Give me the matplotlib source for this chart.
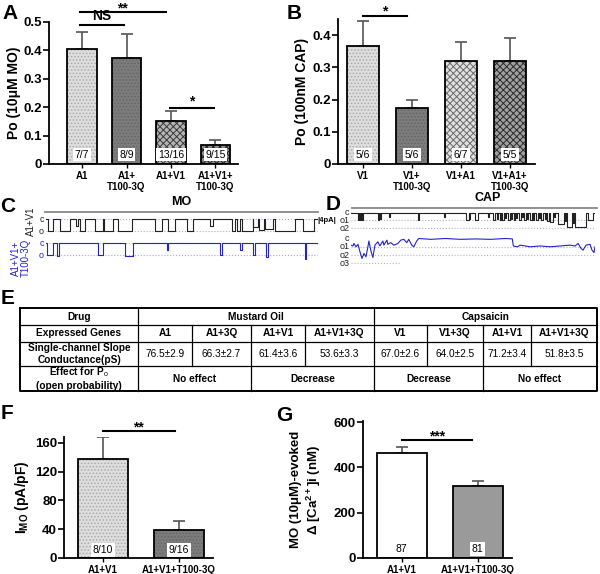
import matplotlib
matplotlib.use("Agg")
import matplotlib.pyplot as plt
import numpy as np

plt.rcParams['font.family'] = ['Liberation Sans', 'DejaVu Sans']
plt.rcParams['mathtext.fontset'] = 'custom'
plt.rcParams['mathtext.rm'] = 'Liberation Sans'
plt.rcParams['mathtext.bf'] = 'Liberation Sans:bold'
plt.rcParams['mathtext.default'] = 'bf'
plt.rcParams['hatch.linewidth'] = 0.7

# ---- data ----
a_groups = ['A1', 'A1+\nT100-3Q', 'A1+V1', 'A1+V1+\nT100-3Q']
a_po = [0.405, 0.372, 0.153, 0.067]
a_sem = [0.060, 0.086, 0.033, 0.016]
a_n = ['7/7', '8/9', '13/16', '9/15']

b_groups = ['V1', 'V1+\nT100-3Q', 'V1+A1', 'V1+A1+\nT100-3Q']
b_po = [0.367, 0.175, 0.320, 0.318]
b_sem = [0.076, 0.025, 0.057, 0.074]
b_n = ['5/6', '5/6', '6/7', '5/5']

f_groups = ['A1+V1', 'A1+V1+T100-3Q']
f_imo = [138, 39]
f_sem = [30, 12]
f_n = ['8/10', '9/16']

g_groups = ['A1+V1', 'A1+V1+T100-3Q']
g_ca = [465, 320]
g_sem = [25, 20]
g_n = ['87', '81']

# single channel events: (start, end, depth in open levels)
c_black = [(2, 7, 1), (14, 24, 1), (30, 32, 0.6), (34, 39, 1), (49, 57, 1), (58, 67, 1),
           (72, 86, 1), (109, 116, 1), (122, 129, 1), (141, 147, 1), (164, 167, 0.6),
           (186, 189, 1), (191, 194, 1), (196, 207, 1), (207, 212, 0.7), (213, 218, 0.9),
           (219, 227, 0.8), (229, 249, 1), (257, 268, 1)]
c_blue = [(1, 7, 1), (11, 13, 1.1), (52, 57, 1), (79, 87, 1.1), (121, 122, 0.6),
          (174, 176, 1), (194, 196, 0.6), (207, 209, 1), (220, 222, 1.2), (259, 260, 1.3)]
d_black = [(7, 8, 1), (9, 10, 1), (11, 12.5, 1), (27, 28, 1), (29, 30, 0.8), (38, 38.8, 0.6),
           (67, 68, 1), (93, 94, 0.6), (115, 118, 1), (118.8, 119.5, 0.8), (125, 128, 1),
           (138, 138.8, 0.6), (143, 144.5, 1), (147, 148, 0.8), (149.5, 150.5, 1),
           (152, 154, 1), (155, 156, 0.7), (158, 160, 1), (161, 162, 0.8), (163.5, 165, 1),
           (166, 167, 0.7), (168.5, 170.5, 1), (172, 173, 0.6), (174, 176, 1), (177, 178, 0.8),
           (180, 182, 1), (183, 184, 0.9), (186, 188, 1), (189, 190, 0.7), (191, 193, 1),
           (195, 196, 0.8), (197, 199, 1.1), (200, 203, 1.2), (204, 205, 0.6), (208, 214, 1.5),
           (215, 216, 1.1), (217, 222, 1.8), (223, 224, 1.3), (225, 236, 1.8), (238, 243, 1)]
d_blue_t = [0, 2, 3, 5, 7, 9, 11, 13, 15, 17, 18, 20, 22, 24, 27, 29, 32, 33, 36, 37, 40,
            43, 47, 50, 53, 56, 58, 61, 63, 66, 68, 80, 95, 110, 125, 140, 155, 162, 163,
            167, 170, 180, 190, 200, 210, 220, 225, 228, 231, 233, 236, 240, 242, 244, 245]
d_blue_lvl = [0.8, 0.9, 0.6, 1.0, 0.7, 1.6, 2.4, 1.8, 2.2, 1.0, 0.3, 1.5, 2.3, 0.8, 0.4,
              0.9, 0.3, 0.8, 0.2, 0.7, 0.5, 0.8, 0.6, 0.2, 0.1, 0.5, 0.1, 0.8, 1.0, 0.3,
              0.0, 0.1, 0.0, 0.1, 0.05, 0.1, 0.0, 0.05, 0.9, 1.0, 0.8, 1.0, 0.9, 1.0, 0.9,
              0.8, 0.9, 0.6, 1.2, 1.4, 0.8, 0.7, 1.4, 1.7, 1.0]

tbl_genes = ['A1', 'A1+3Q', 'A1+V1', 'A1+V1+3Q', 'V1', 'V1+3Q', 'A1+V1', 'A1+V1+3Q']
tbl_cond = ['76.5±2.9', '66.3±2.7', '61.4±3.6', '53.6±3.3',
            '67.0±2.6', '64.0±2.5', '71.2±3.4', '51.8±3.5']
tbl_effect = ['No effect', 'Decrease', 'Decrease', 'No effect']
tbl_drugs = ['Mustard Oil', 'Capsaicin']

W, H = 600, 574
fig = plt.figure(figsize=(6.0, 5.74), dpi=100)


def px_axes(x0, x1, ytop, ybot):
    return fig.add_axes([x0 / W, 1 - ybot / H, (x1 - x0) / W, (ybot - ytop) / H])


LIGHT = dict(face='#dedede', hatch='.....', hc='#aaaaaa')
DARK = dict(face='#7c7c7c', hatch='.....', hc='#666666')
CHK_MED = dict(face='#b4b4b4', hatch='xxxxx', hc='#3a3a3a')
CHK_DARK = dict(face='#8a8a8a', hatch='xxxxx', hc='#1e1e1e')
CHK_LIGHT = dict(face='#e0e0e0', hatch='xxxxx', hc='#6a6a6a')
CHK_MID2 = dict(face='#a0a0a0', hatch='xxxxx', hc='#2a2a2a')
WHITE = dict(face='white', hatch=None, hc='white')
GRAY = dict(face='#9a9a9a', hatch=None, hc='#9a9a9a')


def bar_panel(ax, labels, vals, sems, ns, styles, xlim, ylim, yticks, yfmt, ylabel,
              label_x, ylabel_size=10):
    x = np.arange(len(vals))
    w = 0.66
    ax.errorbar(x, vals, yerr=[np.zeros(len(vals)), sems], fmt='none', ecolor='#555555',
                elinewidth=1.2, capsize=4, capthick=1.2, zorder=1)
    for i, s in enumerate(styles):
        ax.bar(x[i], vals[i], w, color=s['face'], hatch=s['hatch'], edgecolor=s['hc'],
               linewidth=0, zorder=2)
    ax.bar(x, vals, w, fill=False, edgecolor='black', linewidth=1.3, zorder=3)
    for i, t in enumerate(ns):
        ax.text(x[i], 0.065, t, transform=ax.get_xaxis_transform(), ha='center', va='center',
                fontsize=7.5, zorder=4,
                bbox=dict(facecolor='white', edgecolor='none', pad=1.2))
    ax.set_xlim(*xlim)
    ax.set_ylim(*ylim)
    ax.set_yticks(yticks)
    ax.set_yticklabels([yfmt(v) for v in yticks], fontsize=9.5, fontweight='bold')
    ax.set_xticks(x)
    ax.set_xticklabels(labels, fontsize=7, fontweight='bold', linespacing=1.1)
    ax.spines['top'].set_visible(False)
    ax.spines['right'].set_visible(False)
    for sp in ('left', 'bottom'):
        ax.spines[sp].set_linewidth(1.3)
    ax.tick_params(axis='y', length=4, width=1.2, pad=1)
    ax.tick_params(axis='x', length=3, width=1.0, pad=2)
    ax.set_ylabel(ylabel, fontsize=ylabel_size, fontweight='bold')
    ax.yaxis.set_label_coords(label_x, 0.5)


def sig(ax, x0, x1, y, txt, dy):
    ax.plot([x0, x1], [y, y], color='black', lw=1.5, clip_on=False)
    ax.text((x0 + x1) / 2, y + dy, txt, ha='center', va='bottom', fontsize=10,
            fontweight='bold', clip_on=False)


# ---- A ----
axA = px_axes(49, 238, 22, 164)
bar_panel(axA, a_groups, a_po, a_sem, a_n, [LIGHT, DARK, CHK_MED, CHK_DARK],
          (-0.742, 3.506), (0, 0.5), [0, 0.1, 0.2, 0.3, 0.4, 0.5],
          lambda v: '0' if v == 0 else f'{v:.1f}', 'Po (10μM MO)', -0.15)
sig(axA, -0.05, 0.95, 0.489, 'NS', 0.006)
sig(axA, -0.05, 1.88, 0.535, '**', -0.012)
sig(axA, 1.97, 2.97, 0.197, '*', 0.0)

# ---- B ----
axB = px_axes(338, 535, 18.9, 164)
bar_panel(axB, b_groups, b_po, b_sem, b_n, [LIGHT, DARK, CHK_LIGHT, CHK_MID2],
          (-0.51, 3.51), (0, 0.45), [0, 0.1, 0.2, 0.3, 0.4],
          lambda v: '0' if v == 0 else f'{v:.1f}', 'Po (100nM CAP)', -0.145)
sig(axB, 0.0, 0.9, 0.459, '*', -0.008)

# ---- F ----
axF = px_axes(64, 213, 437, 558)
bar_panel(axF, f_groups, f_imo, f_sem, f_n, [LIGHT, DARK],
          (-0.51, 1.45), (0, 168), [0, 40, 80, 120, 160], lambda v: f'{v:d}',
          'I$_{MO}$ (pA/pF)', -0.22)
sig(axF, 0.0, 0.95, 176, '**', -4)

# ---- G ----
axG = px_axes(363, 512, 421, 558)
bar_panel(axG, g_groups, g_ca, g_sem, g_n, [WHITE, GRAY],
          (-0.51, 1.45), (0, 605), [0, 200, 400, 600], lambda v: f'{v:d}',
          'MO (10μM)-evoked\nΔ [Ca$^{2+}$]i (nM)', -0.27, ylabel_size=9.5)
sig(axG, 0.0, 0.93, 521, '***', -14)


# ---- C / D traces ----
def trace_axes(x0, x1, c_row, spacing, lo, hi, tmax):
    ax = px_axes(x0, x1, c_row + lo * spacing, c_row + hi * spacing)
    ax.set_xlim(0, tmax)
    ax.set_ylim(hi, lo)
    ax.axis('off')
    ax.patch.set_alpha(0)
    return ax


def step_trace(events, tmax):
    xs, ys = [0], [0]
    for a, b, d in events:
        xs += [a, a, b, b]
        ys += [0, d, d, 0]
    xs.append(tmax)
    ys.append(0)
    return xs, ys


BLUE = '#2323c8'

axC1 = trace_axes(46, 318, 219, 12, -0.6, 1.5, 272)
axC2 = trace_axes(46, 318, 243, 12, -0.6, 1.6, 272)
for ax, ev, col in ((axC1, c_black, '#222222'), (axC2, c_blue, BLUE)):
    for lv in (0, 1):
        ax.axhline(lv, color='#a8a8e6', ls=':', lw=0.8)
    xs, ys = step_trace(ev, 272)
    ax.plot(xs, ys, color=col, lw=0.8)
    ax.text(-2, 0, 'c', ha='right', va='center', fontsize=6.5, color=col)
    ax.text(-2, 1, 'o', ha='right', va='center', fontsize=6.5, color=col)

axD1 = trace_axes(351, 595, 212.5, 7.8, -0.6, 2.4, 245)
axD2 = trace_axes(351, 595, 238.5, 8.3, -0.6, 3.4, 245)
for lv in (1, 2):
    axD1.axhline(lv, color='#b4b4cc', ls=':', lw=0.8)
for lv in (1, 2):
    axD2.axhline(lv, color='#b4b4cc', ls=':', lw=0.8)
axD2.plot([0, 50], [3, 3], color='#b4b4cc', ls=':', lw=0.8)
xs, ys = step_trace(d_black, 245)
axD1.plot(xs, ys, color='#222222', lw=0.8)
axD2.plot(d_blue_t, d_blue_lvl, color=BLUE, lw=0.8)
for i, lab in enumerate(['c', 'o1', 'o2']):
    axD1.text(-1.5, i, lab, ha='right', va='center', fontsize=6.5, color='#222222')
for i, lab in enumerate(['c', 'o1', 'o2', 'o3']):
    axD2.text(-1.5, i, lab, ha='right', va='center', fontsize=6.5, color='#222222')

# ---- overlay: letters, titles, table ----
ov = fig.add_axes([0, 0, 1, 1])
ov.set_xlim(0, W)
ov.set_ylim(H, 0)
ov.axis('off')
ov.patch.set_alpha(0)

for lab, x, y in (('A', 2, 4), ('B', 287, 4), ('C', 0, 197), ('D', 326, 195),
                  ('E', 1, 289), ('F', 1, 404), ('G', 276, 406)):
    ov.text(x, y, lab, fontsize=15, fontweight='bold', ha='left', va='top')

ov.plot([45, 318], [212, 212], color='#888888', lw=1.3)
ov.plot([352, 597], [208, 208], color='#888888', lw=1.3)
ov.text(181, 208, 'MO', fontsize=9, fontweight='bold', ha='center', va='bottom')
ov.text(488, 204, 'CAP', fontsize=9, fontweight='bold', ha='center', va='bottom')
ov.text(31, 221, 'A1+V1', rotation=90, fontsize=7, ha='center', va='center', color='#222222')
ov.text(21, 258, 'A1+V1+\nT100-3Q', rotation=90, fontsize=7, ha='center', va='center',
        color=BLUE, linespacing=1.0)
ov.text(327, 220, '|4pA|', fontsize=5.5, fontweight='bold', ha='center', va='center')

# table
cols = [20, 138, 192, 251, 305, 374, 427, 483, 531, 597]
rows = [308, 325, 342, 366, 391]
lw_in = 0.9
for r in rows[1:-1]:
    ov.plot([cols[0], cols[-1]], [r, r], color='black', lw=lw_in)
ov.plot([cols[0], cols[-1], cols[-1], cols[0], cols[0]],
        [rows[0], rows[0], rows[-1], rows[-1], rows[0]], color='black', lw=1.4)
for c in (cols[1], cols[5]):
    ov.plot([c, c], [rows[0], rows[-1]], color='black', lw=lw_in)
for c in (cols[2], cols[4], cols[6], cols[8]):
    ov.plot([c, c], [rows[1], rows[3]], color='black', lw=lw_in)
for c in (cols[3], cols[7]):
    ov.plot([c, c], [rows[1], rows[-1]], color='black', lw=lw_in)


def cell_text(c0, c1, r0, r1, txt, bold=True, size=7.3):
    ov.text((cols[c0] + cols[c1]) / 2, (rows[r0] + rows[r1]) / 2, txt, ha='center',
            va='center', fontsize=size, fontweight='bold' if bold else 'normal',
            linespacing=1.25)


cell_text(0, 1, 0, 1, 'Drug')
cell_text(1, 5, 0, 1, tbl_drugs[0])
cell_text(5, 9, 0, 1, tbl_drugs[1])
cell_text(0, 1, 1, 2, 'Expressed Genes')
for i, g in enumerate(tbl_genes):
    cell_text(i + 1, i + 2, 1, 2, g)
cell_text(0, 1, 2, 3, 'Single-channel Slope\nConductance(pS)')
for i, v in enumerate(tbl_cond):
    cell_text(i + 1, i + 2, 2, 3, v, bold=False)
cell_text(0, 1, 3, 4, 'Effect for P$_\\mathrm{o}$\n(open probability)')
for i, e in enumerate(tbl_effect):
    cell_text(2 * i + 1, 2 * i + 3, 3, 4, e)

fig.savefig('out.png', dpi=100, facecolor='white')
